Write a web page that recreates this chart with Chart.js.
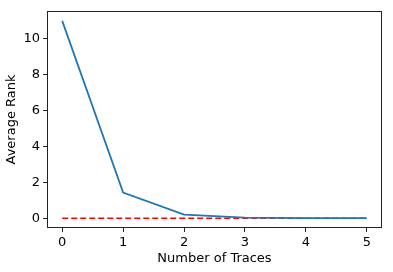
<!DOCTYPE html>
<html>
<head>
<meta charset="utf-8">
<script src="https://cdn.jsdelivr.net/npm/chart.js@4/dist/chart.umd.min.js"></script>
<style>
  html, body { margin: 0; padding: 0; background: #fff; }
  #wrap { width: 393px; height: 272px; }
</style>
</head>
<body>
<div id="wrap"><canvas id="grafico" width="393" height="272"></canvas></div>
<script>
// dados
const traces = [0, 1, 2, 3, 4, 5];
const averageRank = [11.0, 1.42, 0.2, 0.03, 0.0, 0.0];
const idealRank = [0, 0, 0, 0, 0, 0];
const xTicks = [0, 1, 2, 3, 4, 5];
const yTicks = [0, 2, 4, 6, 8, 10];

const fonte = { family: 'DejaVu Sans', size: 13 };

// moldura completa (estilo matplotlib)
const moldura = {
    id: 'moldura',
    afterDraw(chart) {
        const a = chart.chartArea;
        const ctx = chart.ctx;
        ctx.save();
        ctx.strokeStyle = '#222';
        ctx.lineWidth = 1;
        ctx.strokeRect(Math.round(a.left) + 0.5, Math.round(a.top) + 0.5,
            Math.round(a.right - a.left) - 1, Math.round(a.bottom - a.top) - 1);
        ctx.restore();
    }
};

const ctx = document.getElementById('grafico').getContext('2d');
new Chart(ctx, {
    type: 'line',
    data: {
        datasets: [
            {
                label: 'Average Rank',
                data: traces.map((t, i) => ({ x: t, y: averageRank[i] })),
                borderColor: '#1f77b4',
                borderWidth: 1.8,
                pointRadius: 0,
                tension: 0,
                fill: false
            },
            {
                label: 'Ideal',
                data: traces.map((t, i) => ({ x: t, y: idealRank[i] })),
                borderColor: '#ff0000',
                borderWidth: 1.5,
                borderDash: [6, 3],
                pointRadius: 0,
                tension: 0,
                fill: false
            }
        ]
    },
    options: {
        responsive: false,
        animation: false,
        devicePixelRatio: 1,
        layout: { padding: { top: 11, right: 11, left: 0, bottom: 0 } },
        plugins: { legend: { display: false }, tooltip: { enabled: false } },
        scales: {
            x: {
                type: 'linear',
                min: -0.25,
                max: 5.25,
                afterBuildTicks(s) { s.ticks = xTicks.map(v => ({ value: v })); },
                afterFit(s) { s.height = 44; },
                grid: { drawOnChartArea: false, drawTicks: true, tickLength: 4, color: '#222' },
                border: { display: false },
                ticks: { color: '#000', font: fonte, padding: 3, maxRotation: 0 },
                title: {
                    display: true,
                    text: 'Number of Traces',
                    color: '#000',
                    font: fonte,
                    padding: { top: 0, bottom: 6 }
                }
            },
            y: {
                type: 'linear',
                min: -0.55,
                max: 11.55,
                afterBuildTicks(s) { s.ticks = yTicks.map(v => ({ value: v })); },
                afterFit(s) { s.width = 47; },
                grid: { drawOnChartArea: false, drawTicks: true, tickLength: 4, color: '#222' },
                border: { display: false },
                ticks: { color: '#000', font: fonte, padding: 3 },
                title: {
                    display: true,
                    text: 'Average Rank',
                    color: '#000',
                    font: fonte,
                    padding: { top: 4, bottom: 0 }
                }
            }
        }
    },
    plugins: [moldura]
});
</script>
</body>
</html>
